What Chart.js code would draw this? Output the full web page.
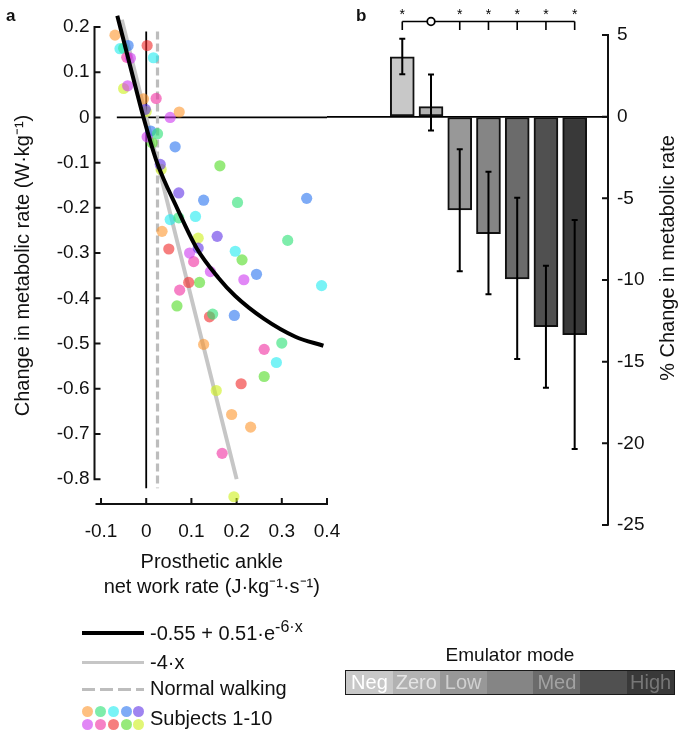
<!DOCTYPE html>
<html><head><meta charset="utf-8">
<script src="https://cdn.jsdelivr.net/npm/chart.js@4.4.1/dist/chart.umd.min.js"></script>
<style>
html,body{margin:0;padding:0;background:#fff;}
body{width:684px;height:737px;position:relative;overflow:hidden;font-family:Arial,"Liberation Sans",sans-serif;color:#111;}
canvas{position:absolute;left:0;top:0;}
.abs{position:absolute;white-space:nowrap;}
.lg{font-size:20px;line-height:24px;}
.lg sup{font-size:16px;line-height:0;vertical-align:8px;}
#emu{box-sizing:border-box;border:1.5px solid #1a1a1a;display:flex;}
#emu div{flex:1;text-align:center;font-size:20px;line-height:22px;overflow:hidden;}
.dot{position:absolute;width:11px;height:11px;border-radius:50%;}
</style></head><body>
<canvas id="cA" width="684" height="737"></canvas>
<canvas id="cB" width="684" height="737"></canvas>
<div class="abs" style="left:6px;top:7px;font-size:17px;font-weight:bold;line-height:17px">a</div>
<div class="abs" style="left:356px;top:7px;font-size:17px;font-weight:bold;line-height:17px">b</div>

<div class="abs" style="left:82px;top:631px;width:62px;height:4px;background:#000"></div>
<div class="abs lg" style="left:150px;top:621px">-0.55 + 0.51·e<sup>-6·x</sup></div>
<div class="abs" style="left:82px;top:661px;width:62px;height:3px;background:#c6c6c6"></div>
<div class="abs lg" style="left:150px;top:650px">-4·x</div>
<div class="abs" style="left:82px;top:688px;width:62px;height:3px;background:repeating-linear-gradient(90deg,#bdbdbd 0 13px,transparent 13px 18px)"></div>
<div class="abs lg" style="left:150px;top:676px">Normal walking</div>
<div id="dots"></div>
<div class="abs lg" style="left:150px;top:706px">Subjects 1-10</div>

<div class="abs" style="left:345px;top:644px;width:330px;text-align:center;font-size:19px;line-height:22px">Emulator mode</div>
<div class="abs" id="emu" style="left:345px;top:670px;width:330px;height:25px"></div>

<script>
// ---------- Panel a data ----------
const xTickValues = [-0.1, 0, 0.1, 0.2, 0.3, 0.4];
const xTickLabels = ['-0.1', '0', '0.1', '0.2', '0.3', '0.4'];
const yTickValues = [-0.8, -0.7, -0.6, -0.5, -0.4, -0.3, -0.2, -0.1, 0, 0.1, 0.2];
const yTickLabels = ['-0.8', '-0.7', '-0.6', '-0.5', '-0.4', '-0.3', '-0.2', '-0.1', '0', '0.1', '0.2'];

const subjectNames = ['Subject 1','Subject 2','Subject 3','Subject 4','Subject 5','Subject 6','Subject 7','Subject 8','Subject 9','Subject 10'];
const subjectColors = ['rgba(253,150,45,0.6)','rgba(40,225,115,0.6)','rgba(30,235,240,0.6)','rgba(40,115,240,0.6)','rgba(95,50,230,0.6)',
                       'rgba(205,55,240,0.6)','rgba(240,45,160,0.6)','rgba(240,40,40,0.6)','rgba(80,220,35,0.6)','rgba(205,240,25,0.6)'];
const subject1 = [[-0.069,0.182],[-0.006,0.041],[0.073,0.012],[0.035,-0.252],[0.127,-0.502],[0.189,-0.657],[0.231,-0.685]];
const subject2 = [[0.025,-0.036],[0.072,-0.222],[0.202,-0.188],[0.313,-0.272],[0.147,-0.435],[0.300,-0.499]];
const subject3 = [[-0.058,0.152],[0.016,0.132],[0.053,-0.226],[0.109,-0.219],[0.197,-0.296],[0.388,-0.372],[0.288,-0.542]];
const subject4 = [[-0.040,0.159],[0.010,-0.030],[0.064,-0.065],[0.127,-0.183],[0.355,-0.179],[0.244,-0.347],[0.195,-0.438]];
const subject5 = [[-0.002,0.018],[0.031,-0.104],[0.072,-0.167],[0.157,-0.263],[0.115,-0.289]];
const subject6 = [[-0.035,0.131],[-0.041,0.070],[0.053,0.000],[0.002,-0.043],[0.096,-0.300],[0.142,-0.341],[0.216,-0.359]];
const subject7 = [[-0.043,0.133],[0.022,0.042],[0.105,-0.319],[0.074,-0.382],[0.261,-0.513],[0.168,-0.743]];
const subject8 = [[0.002,0.159],[0.050,-0.291],[0.094,-0.365],[0.140,-0.441],[0.210,-0.589]];
const subject9 = [[-0.050,0.153],[0.013,-0.056],[0.163,-0.107],[0.118,-0.365],[0.068,-0.417],[0.212,-0.315],[0.261,-0.573]];
const subject10 = [[-0.050,0.064],[0.000,0.013],[0.033,-0.115],[0.115,-0.267],[0.155,-0.604],[0.194,-0.839]];
const subjects = [subject1,subject2,subject3,subject4,subject5,subject6,subject7,subject8,subject9,subject10];

// exponential fit curve
const fitX = [-0.064, -0.032, -0.006, 0.024, 0.068, 0.112, 0.160, 0.197, 0.260, 0.330, 0.392];
const fitY = [0.225, 0.100, 0.000, -0.100, -0.200, -0.290, -0.355, -0.395, -0.445, -0.485, -0.505];
// linear -4x line end points
const linX = [-0.054, 0.200];
const linY = [0.216, -0.800];
// normal walking (dashed) and zero references
const normalX = [0.025, 0.025];
const refY = [0.19, -0.82];
const zeroVX = [0, 0];
const zeroHX = [-0.065, 0.4];
const zeroHY = [0, 0];

// ---------- Panel b data ----------
const modes = ['Neg','Zero','Low','','Med','','High'];
const meanChange = [3.67, 0.61, -5.71, -7.17, -9.93, -12.86, -13.35];
const errHigh = [1.10, 1.97, 3.71, 3.79, 4.97, 3.74, 7.03];
const errLow  = [1.07, 1.46, 3.75, 3.71, 4.90, 3.74, 6.99];
const barColors = ['#c8c8c8','#b2b2b2','#989898','#858585','#6b6b6b','#505050','#393939'];
const modeTextColors = ['#ffffff','#e4e4e4','#d0d0d0','#8a8a8a','#a2a2a2','#5c5c5c','#767676'];
const sigMarks = ['*','o','*','*','*','*','*'];
const yTicksB = [-25,-20,-15,-10,-5,0,5];

const pts = (xs, ys) => xs.map((x, i) => ({x, y: ys[i]}));

// ---------- Panel a chart ----------
const axesA = {
  id: 'axesA',
  beforeDatasetsDraw(chart) {
    const {ctx, chartArea: a, scales: {x, y}} = chart;
    ctx.save();
    ctx.strokeStyle = '#111'; ctx.lineWidth = 2;
    const ax = a.left - 2;
    ctx.beginPath();
    ctx.moveTo(ax, y.getPixelForValue(yTickValues[yTickValues.length - 1]) - 1);
    ctx.lineTo(ax, y.getPixelForValue(yTickValues[0]) + 1);
    yTickValues.forEach(v => { const p = y.getPixelForValue(v); ctx.moveTo(ax, p); ctx.lineTo(ax + 6, p); });
    ctx.moveTo(a.left - 1, a.bottom); ctx.lineTo(a.right + 1, a.bottom);
    xTickValues.forEach(v => { const p = x.getPixelForValue(v); ctx.moveTo(p, a.bottom); ctx.lineTo(p, a.bottom - 6); });
    ctx.stroke();
    ctx.restore();
  }
};

const dsA = [];
dsA.push({type: 'line', label: '-0.55 + 0.51·e^(-6·x)', data: pts(fitX, fitY), borderColor: '#000', borderWidth: 4,
  pointRadius: 0, cubicInterpolationMode: 'monotone', fill: false, order: 0, clip: false});
subjects.forEach((s, i) => dsA.push({type: 'scatter', label: subjectNames[i], data: s.map(p => ({x: p[0], y: p[1]})),
  backgroundColor: subjectColors[i], borderWidth: 0, pointRadius: 5.6, order: 1, clip: false}));
dsA.push({type: 'line', label: '-4·x', data: pts(linX, linY), borderColor: '#c6c6c6', borderWidth: 4, pointRadius: 0, fill: false, order: 2, clip: false});
dsA.push({type: 'line', label: 'Normal walking', data: pts(normalX, refY), borderColor: '#bdbdbd', borderWidth: 3.2, borderDash: [8, 4],
  pointRadius: 0, fill: false, order: 3, clip: false});
dsA.push({type: 'line', label: 'x = 0', data: pts(zeroVX, refY), borderColor: '#000', borderWidth: 1.8, pointRadius: 0, fill: false, order: 3, clip: false});
dsA.push({type: 'line', label: 'y = 0', data: pts(zeroHX, zeroHY), borderColor: '#000', borderWidth: 1.7, pointRadius: 0, fill: false, order: 3, clip: false});

new Chart(document.getElementById('cA'), {
  type: 'scatter',
  data: {datasets: dsA},
  options: {
    responsive: false, animation: false, events: [],
    layout: {padding: {left: 0, top: 27, right: 357, bottom: 137}},
    plugins: {legend: {display: false}, tooltip: {enabled: false}},
    scales: {
      x: {
        type: 'linear', min: -0.11, max: 0.4,
        afterBuildTicks: s => { s.ticks = xTickValues.map(v => ({value: v})); },
        afterFit: s => { s.height = 96; },
        grid: {display: false, drawTicks: false}, border: {display: false},
        ticks: {padding: 16, color: '#111', font: {size: 19}, autoSkip: false, maxRotation: 0,
          callback: (v, i) => xTickLabels[i]},
        title: {display: true, text: ['Prosthetic ankle', 'net work rate (J·kg⁻¹·s⁻¹)'], color: '#111',
          font: {size: 20, lineHeight: 1.25}, padding: {top: 0, bottom: 0}}
      },
      y: {
        type: 'linear', min: -0.855, max: 0.2,
        afterBuildTicks: s => { s.ticks = yTickValues.map(v => ({value: v})); },
        afterFit: s => { s.width = 96.5; },
        grid: {display: false, drawTicks: false}, border: {display: false},
        ticks: {padding: 7, color: '#111', font: {size: 19}, autoSkip: false, callback: (v, i) => yTickLabels[i]},
        title: {display: true, text: 'Change in metabolic rate (W·kg⁻¹)', color: '#111', font: {size: 20}, padding: {top: 11, bottom: 0}}
      }
    }
  },
  plugins: [axesA]
});

// ---------- Panel b chart ----------
const decorB = {
  id: 'decorB',
  afterDatasetsDraw(chart) {
    const {ctx, chartArea: a, scales: {x, y}} = chart;
    ctx.save();
    ctx.strokeStyle = '#000'; ctx.lineWidth = 2;
    meanChange.forEach((m, i) => {
      const px = x.getPixelForValue(i + 1);
      const t = y.getPixelForValue(m + errHigh[i]);
      const b = y.getPixelForValue(m - errLow[i]);
      ctx.beginPath();
      ctx.moveTo(px, t); ctx.lineTo(px, b);
      ctx.moveTo(px - 3, t); ctx.lineTo(px + 3, t);
      ctx.moveTo(px - 3, b); ctx.lineTo(px + 3, b);
      ctx.stroke();
    });
    // inward ticks on right axis
    ctx.lineWidth = 2; ctx.strokeStyle = '#111';
    ctx.beginPath();
    yTicksB.forEach(v => { const p = y.getPixelForValue(v); ctx.moveTo(a.right, p); ctx.lineTo(a.right - 6, p); });
    ctx.stroke();
    // significance bracket
    const lineY = a.top - 13.5, tickY = a.top - 5;
    const first = x.getPixelForValue(1), last = x.getPixelForValue(meanChange.length);
    ctx.lineWidth = 1.6; ctx.strokeStyle = '#000';
    ctx.beginPath();
    ctx.moveTo(first, lineY); ctx.lineTo(last, lineY);
    sigMarks.forEach((s, i) => {
      const px = x.getPixelForValue(i + 1);
      if (s === '*') { ctx.moveTo(px, lineY); ctx.lineTo(px, tickY); }
    });
    ctx.stroke();
    ctx.fillStyle = '#000'; ctx.font = '14px Arial, "Liberation Sans", sans-serif';
    ctx.textAlign = 'center'; ctx.textBaseline = 'alphabetic';
    sigMarks.forEach((s, i) => {
      const px = x.getPixelForValue(i + 1);
      if (s === '*') ctx.fillText('*', px, a.top - 16);
      else {
        ctx.beginPath(); ctx.arc(px, lineY, 3.8, 0, Math.PI * 2);
        ctx.fillStyle = '#fff'; ctx.fill(); ctx.lineWidth = 1.8; ctx.stroke(); ctx.fillStyle = '#000';
      }
    });
    // axis title, reading bottom to top
    ctx.save();
    ctx.translate(668, 258); ctx.rotate(-Math.PI / 2);
    ctx.font = '20px Arial, "Liberation Sans", sans-serif'; ctx.fillStyle = '#111';
    ctx.textAlign = 'center'; ctx.textBaseline = 'middle';
    ctx.fillText('% Change in metabolic rate', 0, 0);
    ctx.restore();
    ctx.restore();
  }
};

new Chart(document.getElementById('cB'), {
  type: 'bar',
  data: {datasets: [{
    label: '% Change in metabolic rate',
    data: meanChange.map((v, i) => ({x: i + 1, y: v})),
    backgroundColor: barColors, borderColor: '#111', borderWidth: 2, borderSkipped: false, barThickness: 24
  }]},
  options: {
    responsive: false, animation: false, events: [],
    layout: {padding: {left: 327, top: 35, right: 0, bottom: 212}},
    plugins: {legend: {display: false}, tooltip: {enabled: false}},
    scales: {
      x: {type: 'linear', display: false, offset: false, min: -1.62, max: 8.16},
      y: {
        position: 'right', min: -25, max: 5,
        afterBuildTicks: s => { s.ticks = yTicksB.map(v => ({value: v})); },
        afterFit: s => { s.width = 76; },
        ticks: {padding: 9, color: '#111', font: {size: 19}},
        grid: {drawTicks: false, lineWidth: 1.7, color: c => (c.tick && c.tick.value === 0) ? '#000' : 'rgba(0,0,0,0)'},
        border: {display: true, color: '#111', width: 2}
      }
    }
  },
  plugins: [decorB]
});

// ---------- HTML legend pieces ----------
const dotsEl = document.getElementById('dots');
const dotX = [87.3, 100, 113, 126, 138.3];
const dotY = [711.7, 724];
subjectColors.forEach((c, i) => {
  const d = document.createElement('div');
  d.className = 'dot';
  d.style.left = (dotX[i % 5] - 5.5) + 'px';
  d.style.top = (dotY[Math.floor(i / 5)] - 5.5) + 'px';
  d.style.background = c;
  dotsEl.appendChild(d);
});
const emu = document.getElementById('emu');
modes.forEach((m, i) => {
  const d = document.createElement('div');
  d.style.background = barColors[i];
  d.style.color = modeTextColors[i];
  d.textContent = m;
  emu.appendChild(d);
});
</script>
</body></html>
